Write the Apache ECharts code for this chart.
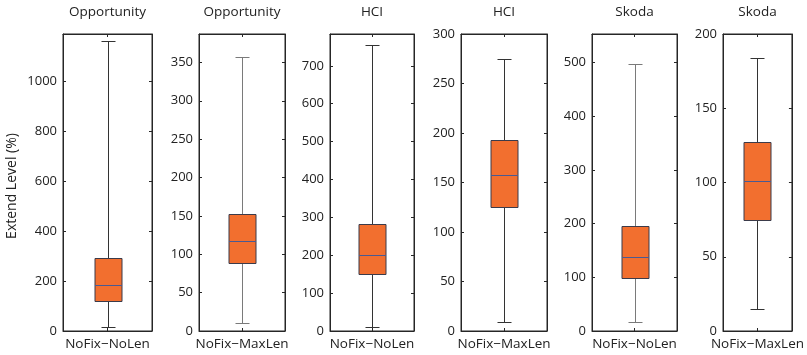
<!DOCTYPE html>
<html>
<head>
<meta charset="utf-8">
<script src="https://cdn.jsdelivr.net/npm/echarts@6/dist/echarts.min.js"></script>
<style>html,body{margin:0;padding:0;background:#fff;}#c{width:807px;height:355px;}</style>
</head>
<body>
<div id="c"></div>
<script>
// ---- data ----
const titles = ['Opportunity', 'Opportunity', 'HCI', 'HCI', 'Skoda', 'Skoda'];
const categories = ['NoFix\u2212NoLen', 'NoFix\u2212MaxLen', 'NoFix\u2212NoLen', 'NoFix\u2212MaxLen', 'NoFix\u2212NoLen', 'NoFix\u2212MaxLen'];
const lowWhisker = [18, 10, 10, 9, 16, 15];
const q1 = [121, 88, 150, 125, 98, 75];
const median = [186, 117, 201, 158, 137, 101];
const q3 = [291, 153, 283, 193, 196, 127];
const highWhisker = [1163, 357, 754, 275, 498, 184];
const yMax = [1190, 387, 784, 300, 553, 200];
const yInterval = [200, 50, 100, 50, 100, 50];
const yAxisTitle = 'Extend Level (%)';

// ---- layout / style ----
const gridLeft = [63, 199, 330, 461, 592, 723];
const gridWidth = [89, 86, 84, 86, 85, 85];
const gridTop = 27, gridHeight = 304;
const whiskerColors = ['#333', '#7a7a7a', '#333', '#333', '#7a7a7a', '#333'];
const FONT = '"Open Sans", "Noto Sans", sans-serif';
const TXT = '#222';
const AX = '#262626';

const grids = [], xAxes = [], yAxes = [], series = [];
const axLine = () => ({show: true, onZero: false, lineStyle: {color: AX, width: 1}});
const axTick = (extra) => Object.assign({show: true, inside: true, length: 3, lineStyle: {color: AX}}, extra || {});
for (let i = 0; i < 6; i++) {
  grids.push({left: gridLeft[i], top: gridTop, width: gridWidth[i], height: gridHeight, containLabel: false,
    show: true, borderColor: AX, borderWidth: 1, backgroundColor: 'transparent'});
  xAxes.push({
    type: 'category', gridIndex: i, position: 'bottom', data: [categories[i]],
    axisLine: axLine(),
    axisTick: axTick({alignWithLabel: true}),
    axisLabel: {show: true, margin: 6, fontSize: 13.5, color: TXT, fontFamily: FONT},
    splitLine: {show: false}
  });
  xAxes.push({
    type: 'category', gridIndex: i, position: 'top', data: [categories[i]],
    axisLine: axLine(),
    axisTick: axTick({alignWithLabel: true}),
    axisLabel: {show: false},
    name: titles[i], nameLocation: 'middle', nameGap: 15,
    nameTextStyle: {fontSize: 13.5, color: TXT, fontFamily: FONT},
    splitLine: {show: false}
  });
  const showMax = (yMax[i] % yInterval[i]) === 0;
  yAxes.push({
    type: 'value', gridIndex: i, position: 'left', min: 0, max: yMax[i], interval: yInterval[i],
    axisLine: axLine(),
    axisTick: axTick(),
    axisLabel: {show: true, margin: 6, fontSize: 13, color: TXT, fontFamily: FONT, showMaxLabel: showMax,
      formatter: v => String(v)},
    splitLine: {show: false}
  });
  yAxes.push({
    type: 'value', gridIndex: i, position: 'right', min: 0, max: yMax[i], interval: yInterval[i],
    axisLine: axLine(),
    axisTick: axTick(),
    axisLabel: {show: false},
    splitLine: {show: false}
  });
  const wc = whiskerColors[i];
  series.push({
    type: 'custom', xAxisIndex: 2 * i, yAxisIndex: 2 * i,
    encode: {x: 0, y: [1, 2, 3, 4, 5]},
    data: [[0, lowWhisker[i], q1[i], median[i], q3[i], highWhisker[i]]],
    renderItem: function (params, api) {
      const c = api.value(0);
      const pLow = api.coord([c, api.value(1)]);
      const pQ1 = api.coord([c, api.value(2)]);
      const pMed = api.coord([c, api.value(3)]);
      const pQ3 = api.coord([c, api.value(4)]);
      const pHigh = api.coord([c, api.value(5)]);
      const cx = Math.round(pLow[0]) + 0.5;
      const bw = 27, cw = 14;
      const r = v => Math.round(v) + 0.5;
      const ls = {stroke: wc, lineWidth: 1};
      return {
        type: 'group',
        children: [
          {type: 'line', shape: {x1: cx, y1: r(pQ1[1]), x2: cx, y2: r(pLow[1])}, style: ls},
          {type: 'line', shape: {x1: cx, y1: r(pQ3[1]), x2: cx, y2: r(pHigh[1])}, style: ls},
          {type: 'line', shape: {x1: cx - cw / 2, y1: r(pLow[1]), x2: cx + cw / 2, y2: r(pLow[1])}, style: ls},
          {type: 'line', shape: {x1: cx - cw / 2, y1: r(pHigh[1]), x2: cx + cw / 2, y2: r(pHigh[1])}, style: ls},
          {type: 'rect', shape: {x: cx - bw / 2, y: r(pQ3[1]), width: bw, height: r(pQ1[1]) - r(pQ3[1])},
            style: {fill: '#F26F2F', stroke: '#3b3b4a', lineWidth: 1}},
          {type: 'line', shape: {x1: cx - bw / 2, y1: r(pMed[1]), x2: cx + bw / 2, y2: r(pMed[1])},
            style: {stroke: '#4a5a92', lineWidth: 1}}
        ]
      };
    }
  });
}

const chart = echarts.init(document.getElementById('c'), null, {renderer: 'canvas'});
chart.setOption({
  animation: false,
  backgroundColor: '#fff',
  grid: grids,
  xAxis: xAxes,
  yAxis: yAxes,
  series: series,
  graphic: [{
    type: 'text', x: 12, y: 186, rotation: Math.PI / 2,
    style: {text: yAxisTitle, fontSize: 14, fill: TXT, fontFamily: FONT, textAlign: 'center', textVerticalAlign: 'middle'}
  }]
});
</script>
</body>
</html>
